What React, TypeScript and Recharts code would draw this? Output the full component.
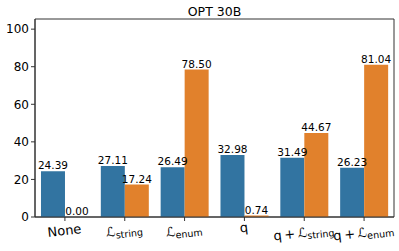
import { Bar, BarChart, LabelList, ReferenceArea, XAxis, YAxis } from "recharts";

const categories = ["None", "ℒ_string", "ℒ_enum", "q", "q + ℒ_string", "q + ℒ_enum"];
const blueValues = [24.39, 27.11, 26.49, 32.98, 31.49, 26.23];
const orangeValues = [0.0, 17.24, 78.5, 0.74, 44.67, 81.04];
const yTicks = [0, 20, 40, 60, 80, 100];

const data = categories.map((name, i) => ({
  name,
  blue: blueValues[i],
  orange: orangeValues[i],
}));

const FONT = "DejaVu Sans, sans-serif";
const AXIS = "#333";

// matplotlib puts mathtext by ink box, so the baselines differ a bit per label
const tickDrop: Record<string, number> = {
  None: 12,
  q: 9,
};

function CategoryTick({ x, y, payload }: any) {
  const value = String(payload.value);
  const [main, sub] = value.split("_");
  const drop = tickDrop[value] ?? (value.startsWith("q") ? 14 : 12);
  return (
    <g transform={`translate(${x},${y + drop}) rotate(-6.5)`}>
      <text textAnchor="middle" fontSize={13} fill="#000" fontFamily={FONT}>
        {main.replace(/ /g, "\u2009")}
        {sub && (
          <tspan fontSize={9.5} dy={2.5}>
            {sub}
          </tspan>
        )}
      </text>
    </g>
  );
}

const labelStyle = { fontSize: 10.5, fill: "#000", fontFamily: FONT };
const fmt = (v: any) => Number(v).toFixed(2);

export default function App() {
  return (
    <div style={{ position: "absolute", left: 0, top: 0, width: 399, height: 251, background: "#fff" }}>
      <div
        style={{
          position: "absolute",
          left: 35,
          width: 359,
          top: 5,
          textAlign: "center",
          fontFamily: FONT,
          fontSize: 12.5,
          lineHeight: "14px",
          color: "#000",
        }}
      >
        OPT 30B
      </div>
      <BarChart
        width={399}
        height={251}
        data={data}
        margin={{ top: 19, right: 5, bottom: 0, left: 0 }}
        barCategoryGap="10%"
        barGap={0}
      >
        <XAxis
          dataKey="name"
          height={34}
          interval={0}
          tick={<CategoryTick />}
          tickSize={4}
          tickLine={{ stroke: AXIS }}
          axisLine={{ stroke: AXIS }}
        />
        <YAxis
          width={35}
          domain={[0, 105.4]}
          ticks={yTicks}
          allowDataOverflow
          tickSize={4}
          tickMargin={2}
          tick={{ fontSize: 12, fill: "#000", fontFamily: FONT }}
          tickLine={{ stroke: AXIS }}
          axisLine={{ stroke: AXIS }}
        />
        <Bar dataKey="blue" fill="#3274a1" isAnimationActive={false}>
          <LabelList dataKey="blue" position="top" offset={2} formatter={fmt} style={labelStyle} />
        </Bar>
        <Bar dataKey="orange" fill="#e1812c" minPointSize={0.01} isAnimationActive={false}>
          <LabelList dataKey="orange" position="top" offset={2} formatter={fmt} style={labelStyle} />
        </Bar>
        <ReferenceArea y1={0} y2={105.4} fill="none" stroke={AXIS} strokeWidth={1} ifOverflow="visible" />
      </BarChart>
    </div>
  );
}
